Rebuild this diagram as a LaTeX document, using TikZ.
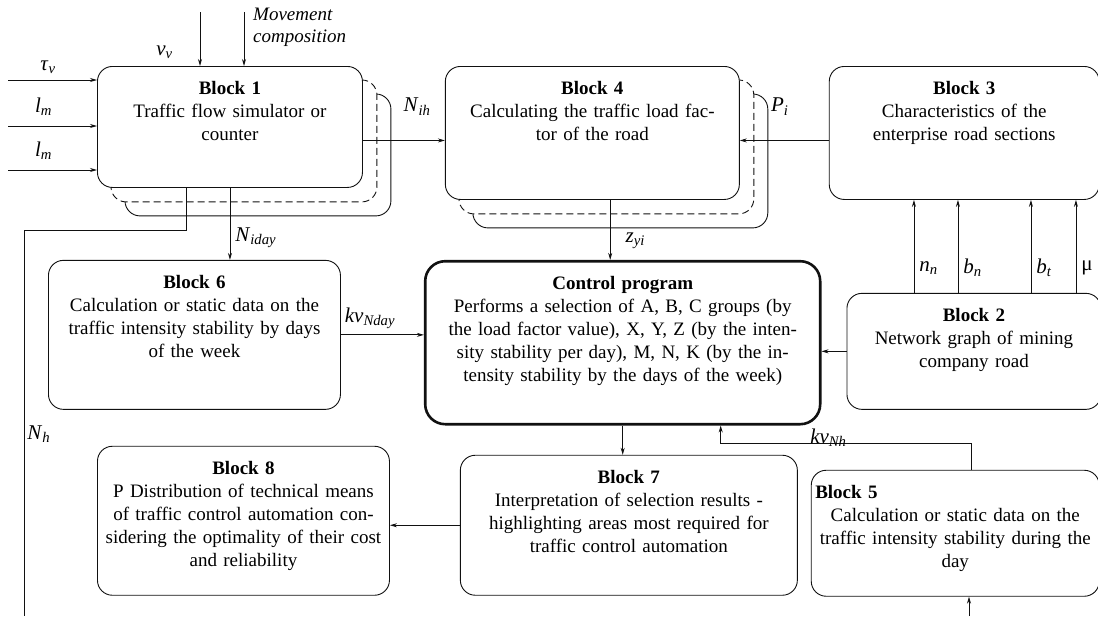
\documentclass[tikz,border=0pt]{standalone}
\usepackage{fontspec}
\setmainfont{Liberation Serif}
\usepackage{tikz}
\usetikzlibrary{arrows.meta,positioning,calc,backgrounds}
\newcommand{\fsig}[2]{\textit{#1}\textsubscript{\textit{#2}}}
\definecolor{bkink}{HTML}{111111}
\tikzset{
  blockBox/.style={draw=bkink, fill=white, line width=0.9pt, rounded corners=15pt, align=center, inner xsep=4pt, inner ysep=15pt, text height=13pt},
  mainBox/.style={blockBox, line width=2.6pt, rounded corners=20pt},
  stackBox/.style={draw=bkink, fill=white, line width=0.9pt, rounded corners=15pt},
  flowArrow/.style={-{Stealth[length=7pt,width=4pt]}, line width=0.8pt, draw=bkink},
  flowLine/.style={line width=0.8pt, draw=bkink},
  sigLabel/.style={font=\fontsize{21}{25}\selectfont, inner sep=1pt}
}
\begin{document}
\begin{tikzpicture}[x=1pt, y=1pt, font=\fontsize{19}{23}\selectfont]
  \useasboundingbox (0,0) rectangle (1098,-616);

  % top row
  \node[blockBox, text width=257pt, text depth=78pt, anchor=north west] (b1) at (97,-66) {\textbf{Block 1}\\Traffic flow simulator or\\counter};
  \node[blockBox, text width=286pt, text depth=90pt, right=82pt of b1.north east, anchor=north west] (b4) {\textbf{Block 4}\\Calculating the traffic load fac-\\tor of the road};
  \node[blockBox, text width=262pt, text depth=90pt, right=89pt of b4.north east, anchor=north west] (b3) {\textbf{Block 3}\\Characteristics of the\\enterprise road sections};

  % middle row
  \node[blockBox, text width=284pt, text depth=106pt, below=72pt of b1.south west, anchor=north west, xshift=-49pt] (b6) {\textbf{Block 6}\\Calculation or static data on the\\traffic intensity stability by days\\of the week};
  \node[mainBox, text width=387pt, text depth=120pt, right=83pt of b6.north east, anchor=north west] (cp) {\textbf{Control program}\\Performs a selection of A, B, C groups (by\\the load factor value), X, Y, Z (by the inten-\\sity stability per day), M, N, K (by the in-\\tensity stability by the days of the week)};
  \node[blockBox, text width=246pt, text depth=73pt, right=25pt of cp.north east, anchor=north west, yshift=-33pt] (b2) {\textbf{Block 2}\\Network graph of mining\\company road};

  % bottom row
  \node[blockBox, text width=284pt, text depth=106pt, below=36pt of b6.south west, anchor=north west, xshift=49pt] (b8) {\textbf{Block 8}\\P Distribution of technical means\\of traffic control automation con-\\sidering the optimality of their cost\\and reliability};
  \node[blockBox, text width=329pt, text depth=97pt, right=70pt of b8.north east, anchor=north west, yshift=-9pt] (b7) {\textbf{Block 7}\\Interpretation of selection results -\\highlighting areas most required for\\traffic control automation};
  \node[blockBox, text width=280pt, text depth=83pt, right=13pt of b7.north east, anchor=north west, yshift=-15pt] (b5) {\makebox[\linewidth][l]{\textbf{Block 5}}\\Calculation or static data on the\\traffic intensity stability during the\\day};

  % stacked copies behind blocks 1 and 4
  \begin{scope}[on background layer]
    \foreach \blk in {b1,b4}{
      \draw[stackBox] ([shift={(28pt,-28pt)}]\blk.north west) rectangle ([shift={(28pt,-28pt)}]\blk.south east);
      \draw[stackBox, dash pattern=on 7pt off 4pt] ([shift={(14pt,-14pt)}]\blk.north west) rectangle ([shift={(14pt,-14pt)}]\blk.south east);
    }
  \end{scope}

  % inputs of block 1
  \coordinate (inTau) at (8,-80);
  \coordinate (inLa) at (8,-126);
  \coordinate (inLb) at (8,-170);
  \coordinate (inV) at (200,-12);
  \coordinate (inMov) at (244,-12);
  \draw[flowArrow] (inTau) -- node[sigLabel, above=5pt, pos=0.45]{\fsig{τ}{v}} (inTau -| b1.west);
  \draw[flowArrow] (inLa) -- node[sigLabel, above=9pt, pos=0.4]{\fsig{l}{m}} (inLa -| b1.west);
  \draw[flowArrow] (inLb) -- node[sigLabel, above=9pt, pos=0.4]{\fsig{l}{m}} (inLb -| b1.west);
  \draw[flowArrow] (inV) -- node[sigLabel, left=26pt, pos=0.74]{\fsig{v}{v}} (inV |- b1.north);
  \draw[flowArrow] (inMov) -- (inMov |- b1.north);
  \node[sigLabel, anchor=north west, align=left, font=\fontsize{19}{22}\selectfont\itshape] (movTxt) at ([xshift=8pt,yshift=5pt]inMov) {Movement\\composition};

  % block 1 outputs
  \draw[flowArrow] ([yshift=-13.5pt]b1.east) -- node[sigLabel, above=24pt, pos=0.66]{\fsig{N}{ih}} ([yshift=-13.5pt]b1.east -| b4.west);
  \draw[flowArrow] (b1.south) -- node[sigLabel, right=4pt, pos=0.69]{\fsig{N}{iday}} (b1.south |- b6.north);
  \coordinate (nhEnd) at (24,-616);
  \draw[flowLine] ([xshift=-44pt]b1.south) -- ++(0,-42pt) -| node[sigLabel, right=2pt, pos=0.764]{\fsig{N}{h}} (nhEnd);

  % block 3 and block 4
  \draw[flowArrow] ([yshift=-7.5pt]b3.west) -- node[sigLabel, above=24pt, pos=0.55]{\fsig{P}{i}} ([yshift=-7.5pt]b3.west -| b4.east);
  \draw[flowArrow] ([xshift=-12.5pt]cp.north |- b4.south) -- node[sigLabel, right=14pt, pos=0.68]{\fsig{z}{yi}} ([xshift=-12.5pt]cp.north);

  % block 2 to block 3
  \foreach \dx/\txt in {-60/{\fsig{n}{n}}, -16/{\fsig{b}{n}}, 57/{\fsig{b}{t}}, 102/{μ}}{
    \draw[flowArrow] ([xshift=\dx pt]b2.north) -- node[sigLabel, right=4pt, pos=0.27]{\txt} ([xshift=\dx pt]b2.north |- b3.south);
  }

  % into the control program
  \draw[flowArrow] (b6.east) -- node[sigLabel, above=5pt, pos=0.35]{\fsig{kv}{Nday}} (b6.east -| cp.west);
  \draw[flowArrow] (b2.west) -- (b2.west -| cp.east);
  \coordinate (kvIn) at ([xshift=98pt]cp.south);
  \draw[flowArrow] ([xshift=16pt]b5.north) -- ++(0,26pt) -| node[sigLabel, above=-4pt, pos=0.285]{\fsig{kv}{Nh}} (kvIn);
  \coordinate (inB5) at (969,-616);
  \draw[flowArrow] (inB5) -- (inB5 |- b5.south);

  % results
  \draw[flowArrow] (cp.south) -- (cp.south |- b7.north);
  \draw[flowArrow] (b7.west) -- (b7.west -| b8.east);
\end{tikzpicture}
\end{document}
